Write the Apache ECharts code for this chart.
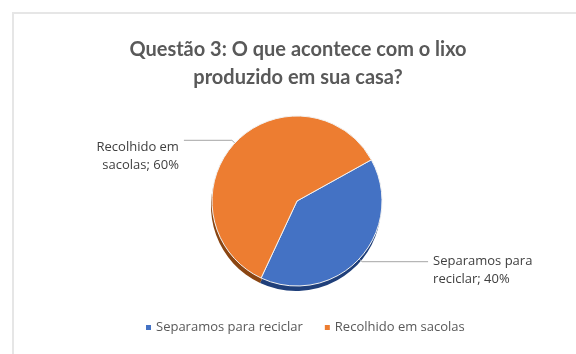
<!DOCTYPE html>
<html>
<head>
<meta charset="utf-8">
<style>
  html, body { margin: 0; padding: 0; background: #ffffff; }
  #chart { width: 576px; height: 354px; }
</style>
<script src="https://cdn.jsdelivr.net/npm/echarts@6/dist/echarts.min.js"></script>
</head>
<body>
<div id="chart"></div>
<script>
// Survey answers and their shares (percent)
const categories = ['Separamos para reciclar', 'Recolhido em sacolas'];
const values = [40, 60];
// Label text split over two lines, as printed beside each slice
const labelFirstLines = ['Separamos para', 'Recolhido em'];
const labelSecondLines = ['reciclar', 'sacolas'];

const faceColors = ['#4472c4', '#ed7d31'];
const edgeColors = ['#1f3f7a', '#8a4512'];
const leaderLengths = [66, 48];

const chart = echarts.init(document.getElementById('chart'), null, { renderer: 'canvas' });

const faceData = categories.map((name, i) => ({
  name: name,
  value: values[i],
  itemStyle: { color: faceColors[i] },
  labelLine: { length2: leaderLengths[i] }
}));
const edgeData = categories.map((name, i) => ({
  name: name,
  value: values[i],
  itemStyle: { color: edgeColors[i] }
}));

chart.setOption({
  animation: false,
  backgroundColor: '#ffffff',
  graphic: [{
    type: 'polyline',
    shape: { points: [[13, 354], [13, 13], [576, 13]] },
    style: { stroke: '#e6e6e6', lineWidth: 2, fill: null },
    silent: true
  }],
  title: {
    text: 'Questão 3: O que acontece com o lixo\nproduzido em sua casa?',
    left: 293,
    textAlign: 'center',
    top: 31,
    textStyle: {
      fontFamily: 'Lato',
      fontWeight: 'bold',
      fontSize: 20,
      lineHeight: 28,
      color: '#595959'
    }
  },
  legend: {
    data: categories.map((name, i) => ({ name: name, itemStyle: { color: faceColors[i] } })),
    bottom: 15,
    left: 141,
    icon: 'rect',
    itemWidth: 5,
    itemHeight: 5,
    itemGap: 22,
    textStyle: { fontFamily: 'Open Sans', fontSize: 13, color: '#595959' }
  },
  series: [
    {
      // darker rim drawn slightly lower to give the pie its thickness
      type: 'pie',
      z: 1,
      silent: true,
      center: [296, 206],
      radius: 85,
      startAngle: 29,
      clockwise: true,
      label: { show: false },
      labelLine: { show: false },
      data: edgeData
    },
    {
      type: 'pie',
      z: 2,
      center: [297, 201],
      radius: 85,
      startAngle: 29,
      clockwise: true,
      itemStyle: { borderColor: '#f2f2f2', borderWidth: 1 },
      label: {
        show: true,
        position: 'outside',
        fontFamily: 'Open Sans',
        fontSize: 13,
        lineHeight: 18,
        color: '#404040',
        align: 'center',
        // leading empty line keeps the leader line level with the first text line
        formatter: function (p) {
          return ' \n' + labelFirstLines[p.dataIndex] + '\n' + labelSecondLines[p.dataIndex] + '; ' + p.percent.toFixed(0) + '%';
        }
      },
      labelLine: {
        show: true,
        length: 4,
        lineStyle: { color: '#a6a6a6', width: 1 }
      },
      // the left-hand label sits a little lower than its slice's middle
      labelLayout: function (params) {
        return params.dataIndex === 1 ? { dy: 7 } : {};
      },
      data: faceData
    }
  ]
});
</script>
</body>
</html>
